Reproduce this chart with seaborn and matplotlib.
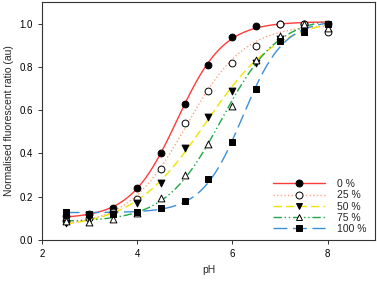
import numpy as np
import pandas as pd
import matplotlib as mpl
import matplotlib.pyplot as plt
from matplotlib.lines import Line2D
import seaborn as sns

sns.set_style("ticks")
mpl.rcParams['font.family'] = ['Liberation Sans', 'DejaVu Sans']
mpl.rcParams['font.size'] = 7

# DATA
ph = [2.5, 3, 3.5, 4, 4.5, 5, 5.5, 6, 6.5, 7, 7.5, 8]
labels = ["0 %", "25 %", "50 %", "75 %", "100 %"]
ratio_0 = [0.11, 0.12, 0.15, 0.24, 0.40, 0.63, 0.81, 0.94, 0.99, 1.00, 1.00, 1.00]
ratio_25 = [0.09, 0.10, 0.13, 0.19, 0.33, 0.54, 0.69, 0.82, 0.895, 1.00, 1.00, 0.96]
ratio_50 = [0.08, 0.10, 0.12, 0.17, 0.265, 0.425, 0.57, 0.69, 0.82, 0.93, 0.97, 0.99]
ratio_75 = [0.09, 0.085, 0.096, 0.125, 0.193, 0.30, 0.444, 0.62, 0.833, 0.944, 1.00, 0.98]
ratio_100 = [0.13, 0.12, 0.12, 0.13, 0.147, 0.18, 0.28, 0.452, 0.70, 0.918, 0.96, 1.00]
series = [ratio_0, ratio_25, ratio_50, ratio_75, ratio_100]

colors = ["#ff3b3b", "#ffa585", "#f0e400", "#1fa843", "#3b8fd8"]
dashes = [(None, None), (1, 1.6), (6, 3), (6, 2, 1, 2, 1, 2), (10, 4)]
markers = ["o", "o", "v", "^", "s"]
filled = [True, False, True, False, True]


def boltzmann_fit(x, y):
    # grid search over midpoint/width, linear least squares for bottom/top
    x = np.asarray(x)
    y = np.asarray(y)
    x0 = np.linspace(3.5, 7.5, 201)[:, None, None]
    dx = np.linspace(0.15, 1.5, 136)[None, :, None]
    s = 1 / (1 + np.exp((x[None, None, :] - x0) / dx))
    sm = s.mean(-1, keepdims=True)
    ym = y.mean()
    b = ((s - sm) * (y - ym)).sum(-1, keepdims=True) / ((s - sm) ** 2).sum(-1, keepdims=True)
    a = ym - b * sm
    err = ((a + b * s - y) ** 2).sum(-1)
    i, j = np.unravel_index(np.argmin(err), err.shape)
    return x0[i, 0, 0], dx[0, j, 0], a[i, j, 0], b[i, j, 0]


xs = np.linspace(min(ph), max(ph), 300)
fig, ax = plt.subplots(figsize=(3.77, 2.82), dpi=100)
fig.subplots_adjust(left=0.111, right=0.995, bottom=0.149, top=0.993)

for vals, c, d in zip(series, colors, dashes):
    x0, dx, a, b = boltzmann_fit(ph, vals)
    fit = a + b / (1 + np.exp((xs - x0) / dx))
    sns.lineplot(x=xs, y=fit, color=c, lw=1.0, ax=ax)
    ln = ax.get_lines()[-1]
    if d[0] is not None:
        ln.set_dashes(d)

for vals, m, f in zip(series, markers, filled):
    sns.scatterplot(x=ph, y=vals, marker=m, s=24,
                    color="black" if f else "white",
                    edgecolor="black", linewidth=0.7, ax=ax, zorder=3)

leg_handles = []
for c, d, m, f in zip(colors, dashes, markers, filled):
    h = Line2D([], [], color=c, lw=1.0, marker=m, markersize=5,
               markerfacecolor="black" if f else "white",
               markeredgecolor="black", markeredgewidth=0.7)
    if d[0] is not None:
        h.set_dashes(d)
    leg_handles.append(h)
ax.legend(leg_handles, labels, loc="lower right", frameon=False,
          handlelength=5.0, handletextpad=1.2, labelspacing=0.12,
          borderpad=0, borderaxespad=0,
          bbox_to_anchor=(0.975, 0.025), fontsize=7.5)

ax.set_xlim(2, 9)
ax.set_ylim(0, 1.1)
ax.set_xticks([2, 4, 6, 8])
ax.set_yticks([0.0, 0.2, 0.4, 0.6, 0.8, 1.0])
ax.set_yticklabels(["0.0", "0.2", "0.4", "0.6", "0.8", "1.0"])
ax.tick_params(direction="out", length=3, width=0.7, colors="#333333", labelcolor="black")
for sp in ax.spines.values():
    sp.set_linewidth(0.8)
    sp.set_color("#333333")
ax.set_xlabel("pH", fontsize=7.5)
ax.set_ylabel("Normalised fluorescent ratio (au)", fontsize=7.5)

plt.savefig("out.png", dpi=100)
plt.close()
